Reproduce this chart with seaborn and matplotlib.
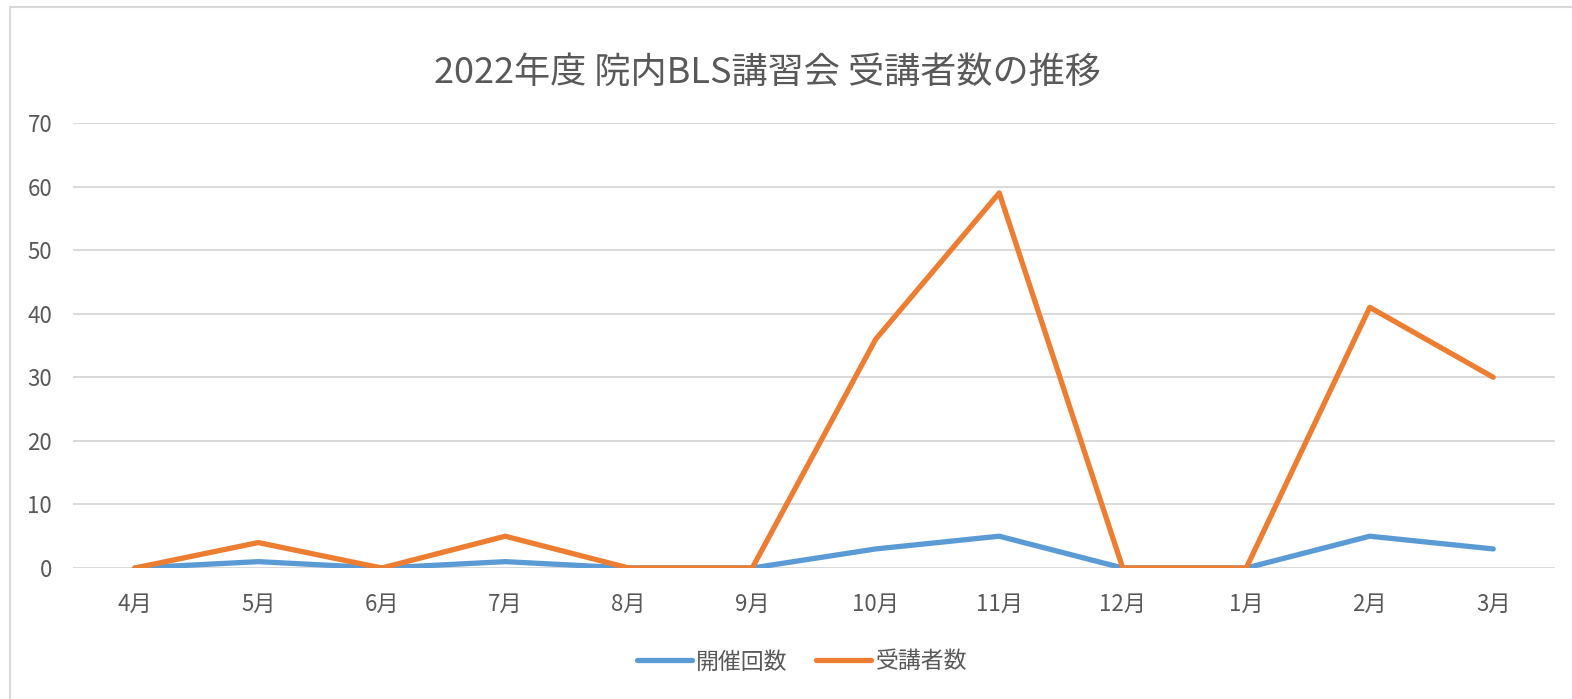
import matplotlib
matplotlib.use("Agg")
import matplotlib.pyplot as plt
import seaborn as sns
import pandas as pd
from matplotlib.patches import Rectangle

months = ["4月", "5月", "6月", "7月", "8月", "9月", "10月", "11月", "12月", "1月", "2月", "3月"]
sessions = [0, 1, 0, 1, 0, 0, 3, 5, 0, 0, 5, 3]
attendees = [0, 4, 0, 5, 0, 0, 36, 59, 0, 0, 41, 30]
series_names = ["開催回数", "受講者数"]
title = "2022年度 院内BLS講習会 受講者数の推移"

sns.set_theme(style="white")
plt.rcParams['font.family'] = ['Noto Sans CJK JP', 'DejaVu Sans']

df = pd.DataFrame({
    "month": months * 2,
    "value": sessions + attendees,
    "series": [series_names[0]] * len(months) + [series_names[1]] * len(months),
})

fig = plt.figure(figsize=(15.72, 6.99), dpi=100)
ax = fig.add_axes([73 / 1572, 131 / 699, (1555 - 73) / 1572, (568 - 123) / 699])

palette = {series_names[0]: "#5B9BD5", series_names[1]: "#ED7D31"}
sns.lineplot(data=df, x="month", y="value", hue="series", palette=palette,
             linewidth=3.8, sort=False, ax=ax, legend=True)
for ln in ax.lines:
    ln.set_solid_joinstyle("round")
    ln.set_solid_capstyle("round")

ax.set_xlim(-0.5, len(months) - 0.5)
ax.set_ylim(0, 70)
ax.set_yticks(range(0, 71, 10))
ax.yaxis.grid(True, color="#D9D9D9", linewidth=1.4)
ax.set_axisbelow(True)
for s in ax.spines.values():
    s.set_visible(False)
ax.set_xlabel("")
ax.set_ylabel("")
ax.tick_params(axis="both", length=0, colors="#595959", labelsize=16)
ax.tick_params(axis="y", pad=15)
ax.tick_params(axis="x", pad=18)

handles, labels = ax.get_legend_handles_labels()
ax.get_legend().remove()
leg = fig.legend(handles, labels, loc="center", bbox_to_anchor=(802 / 1572, 1 - 662 / 699),
                 ncol=2, frameon=False, fontsize=16.5, handlelength=2.4, handletextpad=0.2,
                 columnspacing=1.25)
for t in leg.get_texts():
    t.set_color("#595959")

fig.text(767 / 1572, 1 - 73 / 699, title, ha="center", va="center", fontsize=26, color="#595959")

fig.patches.append(Rectangle((10 / 1572, -0.05), 2, 1.05 - 7 / 699, transform=fig.transFigure,
                             fill=False, edgecolor="#D9D9D9", linewidth=1.5))

fig.savefig("out.png", dpi=100)
